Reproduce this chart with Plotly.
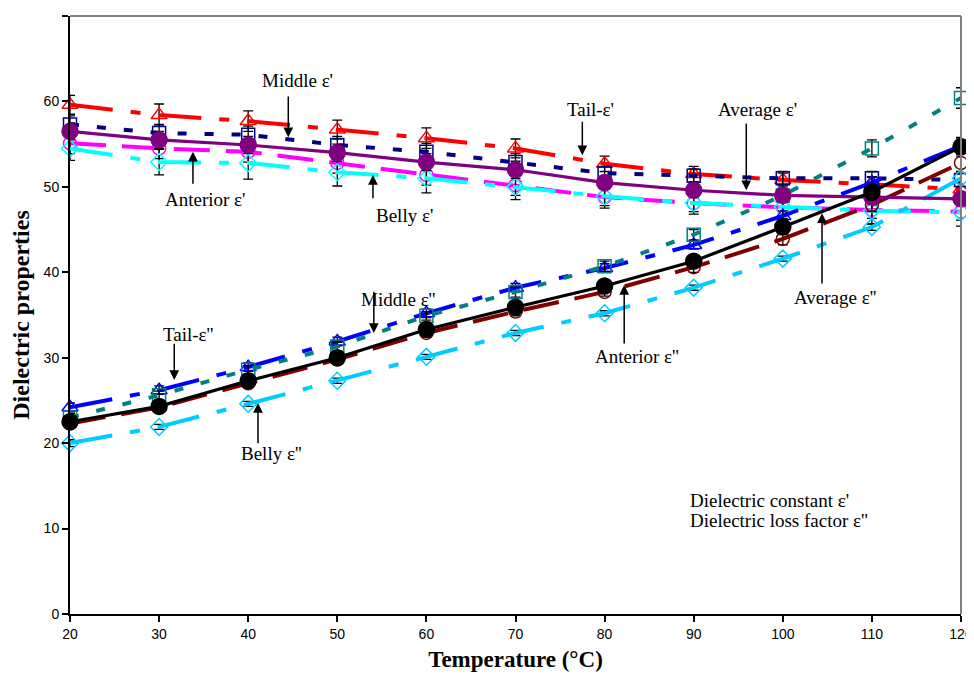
import plotly.graph_objects as go

temps = [20, 30, 40, 50, 60, 70, 80, 90, 100, 110, 120]

# Dielectric constant (epsilon')
tail_c = [59.6, 58.4, 57.7, 56.7, 55.7, 54.5, 52.7, 51.5, 50.8, 50.3, 49.7]
middle_c = [57.3, 56.3, 56.1, 54.9, 54.1, 52.9, 51.6, 51.3, 51.0, 51.0, 50.8]
average_c = [56.5, 55.5, 54.9, 54.0, 52.9, 52.0, 50.5, 49.6, 49.0, 48.8, 48.6]
anterior_c = [55.1, 54.5, 54.1, 52.8, 51.4, 50.2, 48.8, 48.1, 47.6, 47.3, 47.1]
belly_c = [54.5, 52.9, 52.8, 51.7, 51.0, 50.0, 48.9, 48.1, 47.6, 47.2, 47.0]

# Dielectric loss factor (epsilon'')
tail_l = [24.2, 26.2, 28.9, 31.9, 35.2, 38.2, 40.5, 43.2, 46.6, 50.5, 54.8]
middle_l = [23.0, 25.6, 28.6, 31.3, 34.9, 37.7, 40.7, 44.4, 49.0, 54.5, 60.4]
average_l = [22.5, 24.3, 27.3, 30.0, 33.3, 35.9, 38.4, 41.3, 45.3, 49.4, 54.7]
anterior_l = [22.3, 24.2, 27.0, 29.8, 32.9, 35.4, 37.7, 40.6, 43.9, 47.9, 52.8]
belly_l = [20.0, 21.9, 24.6, 27.3, 30.1, 32.9, 35.2, 38.2, 41.6, 45.3, 51.0]

# Error values (standard deviation)
tail_c_err = [1.1, 1.3, 1.2, 1.1, 1.2, 1.1, 0.9, 0.9, 0.8, 0.8, 0.8]
middle_c_err = [1.0, 1.0, 1.0, 1.0, 1.0, 1.0, 0.8, 0.8, 0.8, 0.8, 0.8]
average_c_err = [1.0, 1.0, 1.0, 1.0, 1.0, 1.0, 0.8, 0.8, 0.8, 0.8, 0.8]
anterior_c_err = [1.2, 1.2, 1.2, 1.2, 1.2, 1.2, 1.0, 1.0, 1.0, 1.0, 1.0]
belly_c_err = [1.4, 1.5, 1.9, 1.6, 1.7, 1.5, 1.4, 1.3, 1.3, 1.6, 1.6]

tail_l_err = [0.5, 0.5, 0.5, 0.5, 0.5, 0.5, 0.5, 0.5, 0.6, 0.7, 0.8]
middle_l_err = [0.5, 0.5, 0.5, 0.5, 0.5, 0.6, 0.6, 0.6, 0.8, 1.0, 1.2]
average_l_err = [0.5, 0.5, 0.5, 0.5, 0.5, 0.5, 0.5, 0.6, 0.7, 0.9, 1.1]
anterior_l_err = [0.5, 0.5, 0.5, 0.5, 0.5, 0.5, 0.5, 0.6, 0.7, 0.8, 1.0]
belly_l_err = [0.4, 0.3, 0.3, 0.3, 0.3, 0.3, 0.3, 0.3, 0.3, 0.4, 0.5]

DASHDOT = "43px,18px,10px,18px"
SHORT = "9px,18px"
LONG = "36px,16px"

series = [
    (tail_c, tail_c_err, "#FF0000", DASHDOT, "triangle-up-open", 14, 4),
    (middle_c, middle_c_err, "#000080", SHORT, "square-open", 13, 4),
    (anterior_c, anterior_c_err, "#FF00FF", LONG, "circle-open", 13, 4),
    (belly_c, belly_c_err, "#00FFFF", DASHDOT, "diamond-open", 13, 4),
    (tail_l, tail_l_err, "#0000FF", DASHDOT, "triangle-up-open", 14, 4),
    (middle_l, middle_l_err, "#008080", SHORT, "square-open", 13, 4),
    (anterior_l, anterior_l_err, "#800000", LONG, "circle-open", 13, 4),
    (belly_l, belly_l_err, "#00CCFF", DASHDOT, "diamond-open", 13, 4),
    (average_c, average_c_err, "#800080", "solid", "circle", 16, 3.2),
    (average_l, average_l_err, "#000000", "solid", "circle", 16, 3.2),
]

fig = go.Figure()
for vals, errs, color, dash, symbol, size, lw in series:
    fig.add_trace(go.Scatter(
        x=temps, y=vals, mode="lines+markers",
        line=dict(color=color, width=lw, dash=dash),
        marker=dict(symbol=symbol, size=size, color=color,
                    line=dict(color=color, width=1.5)),
        error_y=dict(type="data", array=errs, visible=True,
                     color="black", thickness=1.3, width=5),
        cliponaxis=False, showlegend=False,
    ))

serif = "Liberation Serif, Times New Roman, serif"

labels = [
    ("Middle ε'", 45.5, 62.5),
    ("Tail-ε'", 78.4, 59.0),
    ("Average ε'", 97.2, 59.0),
    ("Anterior ε'", 35.2, 48.5),
    ("Belly ε'", 57.5, 46.7),
    ("Middle ε''", 56.8, 36.8),
    ("Tail-ε''", 33.2, 32.7),
    ("Belly ε''", 42.6, 18.8),
    ("Anterior ε''", 83.6, 30.2),
    ("Average ε''", 105.9, 37.1),
]
arrows = [
    (44.5, 60.75, 55.8),
    (77.5, 57.8, 53.7),
    (95.9, 57.6, 49.6),
    (33.8, 50.2, 54.1),
    (54.0, 48.5, 51.4),
    (54.1, 37.9, 32.9),
    (31.7, 31.8, 27.4),
    (41.1, 19.8, 24.7),
    (82.2, 31.5, 38.5),
    (104.4, 38.5, 46.9),
]

annotations = []
for text, x, y in labels:
    annotations.append(dict(x=x, y=y, xref="x", yref="y", text=text,
                            showarrow=False, font=dict(family=serif, size=19, color="black")))
for x, y0, y1 in arrows:
    annotations.append(dict(x=x, y=y1, ax=x, ay=y0, xref="x", yref="y",
                            axref="x", ayref="y", text="", showarrow=True,
                            arrowhead=2, arrowsize=1.3, arrowwidth=1.5, arrowcolor="black"))
annotations.append(dict(x=89.4, y=13.3, xref="x", yref="y", xanchor="left",
                        text="Dielectric constant ε'", showarrow=False,
                        font=dict(family=serif, size=19, color="black")))
annotations.append(dict(x=89.4, y=10.9, xref="x", yref="y", xanchor="left",
                        text="Dielectric loss factor ε''", showarrow=False,
                        font=dict(family=serif, size=19, color="black")))

# page body has an 8px default margin, so the figure is sized/offset to fit the 974x680 window
fig.update_layout(
    width=966, height=664,
    margin=dict(l=62, r=13, t=8, b=58, autoexpand=False),
    plot_bgcolor="white", paper_bgcolor="white",
    annotations=annotations,
    shapes=[
        dict(type="line", xref="paper", yref="paper", x0=0, x1=1, y0=1, y1=1,
             line=dict(color="#808080", width=2)),
        dict(type="line", xref="paper", yref="paper", x0=1, x1=1, y0=0, y1=1,
             line=dict(color="#808080", width=2)),
    ],
    xaxis=dict(range=[20, 120], dtick=10, tick0=20, showgrid=False, zeroline=False,
               automargin=False,
               showline=True, linecolor="black", linewidth=2,
               ticks="outside", ticklen=6, tickwidth=1.5, tickcolor="black",
               tickfont=dict(family="Liberation Sans, Arial", size=14, color="black"),
               title=dict(text="Temperature (°C)", standoff=12,
                          font=dict(family=serif, size=23, color="black", weight="bold"))),
    yaxis=dict(range=[0, 70], dtick=10, showgrid=False, zeroline=False,
               automargin=False,
               showline=True, linecolor="black", linewidth=2,
               ticks="outside", ticklen=6, tickwidth=1.5, tickcolor="black",
               tickfont=dict(family="Liberation Sans, Arial", size=14, color="black"),
               title=dict(text="Dielectric properties", standoff=10,
                          font=dict(family=serif, size=24, color="black", weight="bold"))),
)

fig.write_html("out.html")
